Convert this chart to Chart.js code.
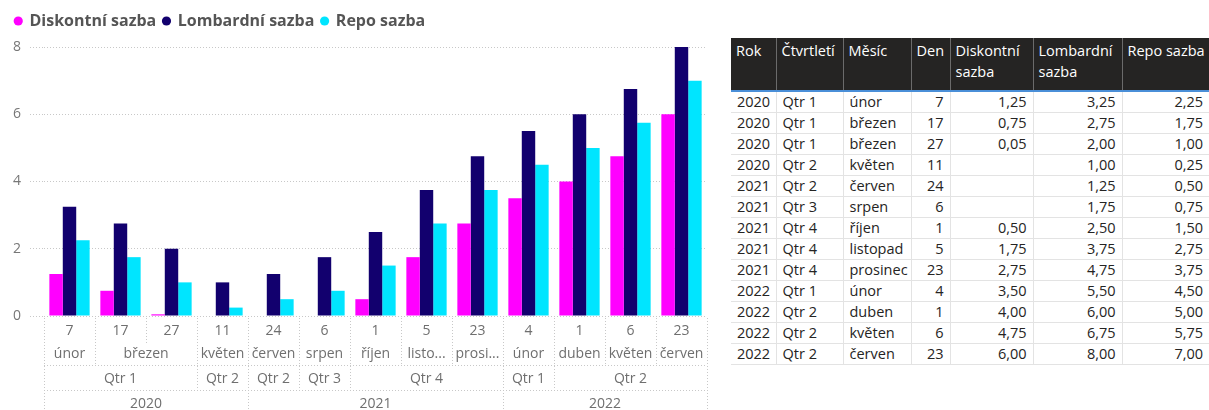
<!DOCTYPE html>
<html><head><meta charset="utf-8">
<script src="https://cdn.jsdelivr.net/npm/chart.js@4/dist/chart.umd.min.js"></script>
<style>
html,body{margin:0;padding:0;background:#fff;width:1209px;height:410px;overflow:hidden;font-family:'Open Sans',sans-serif;}
#c{position:absolute;left:0;top:0;}
#tbl{position:absolute;left:731px;top:38px;width:478px;border-collapse:collapse;table-layout:fixed;font-family:'Open Sans',sans-serif;font-size:14.5px;color:#252423;}
#tbl th{background:#252423;color:#fff;font-weight:normal;text-align:left;vertical-align:top;height:50px;padding:2px 3px 0 5px;line-height:21px;border-left:1px solid #6b6b6b;border-bottom:2px solid #4a8fd8;white-space:normal;}
#tbl th:first-child{border-left:none;}
#tbl td{height:20px;padding:0 6px;line-height:20px;border-left:1px solid #e3e3e3;border-bottom:1px solid #e3e3e3;white-space:nowrap;overflow:hidden;}
#tbl td:first-child{border-left:none;}
#tbl td.num{text-align:right;}
</style></head><body>
<canvas id="c" width="714" height="410"></canvas>
<table id="tbl"></table>
<script>
// ---- data ----
const years    = ['2020','2020','2020','2020','2021','2021','2021','2021','2021','2022','2022','2022','2022'];
const quarters = ['Qtr 1','Qtr 1','Qtr 1','Qtr 2','Qtr 2','Qtr 3','Qtr 4','Qtr 4','Qtr 4','Qtr 1','Qtr 2','Qtr 2','Qtr 2'];
const months   = ['únor','březen','březen','květen','červen','srpen','říjen','listopad','prosinec','únor','duben','květen','červen'];
const days     = [7,17,27,11,24,6,1,5,23,4,1,6,23];
const diskontni = [1.25,0.75,0.05,null,null,null,0.50,1.75,2.75,3.50,4.00,4.75,6.00];
const lombardni = [3.25,2.75,2.00,1.00,1.25,1.75,2.50,3.75,4.75,5.50,6.00,6.75,8.00];
const repo      = [2.25,1.75,1.00,0.25,0.50,0.75,1.50,2.75,3.75,4.50,5.00,5.75,7.00];
const seriesNames = ['Diskontní sazba','Lombardní sazba','Repo sazba'];
const yTicks = [0,2,4,6,8];
const colHeaders = ['Rok','Čtvrtletí','Měsíc','Den','Diskontní sazba','Lombardní sazba','Repo sazba'];

const FONT = "'Open Sans', sans-serif";
const colors = ['#FF00FF','#12006E','#00E5FF'];

// ---- table ----
const colWidths = [45,67,68,39,83,89,87];
const fmt = v => v == null ? '' : v.toFixed(2).replace('.', ',');
(function buildTable(){
  const t = document.getElementById('tbl');
  const cg = document.createElement('colgroup');
  colWidths.forEach(w => { const c = document.createElement('col'); c.style.width = w + 'px'; cg.appendChild(c); });
  t.appendChild(cg);
  const hr = document.createElement('tr');
  colHeaders.forEach(h => { const th = document.createElement('th'); th.textContent = h; hr.appendChild(th); });
  t.appendChild(hr);
  days.forEach((d, i) => {
    const tr = document.createElement('tr');
    const cells = [[years[i],''],[quarters[i],''],[months[i],''],[String(d),'num'],[fmt(diskontni[i]),'num'],[fmt(lombardni[i]),'num'],[fmt(repo[i]),'num']];
    cells.forEach(([txt, cls]) => { const td = document.createElement('td'); td.textContent = txt; if (cls) td.className = cls; tr.appendChild(td); });
    t.appendChild(tr);
  });
})();

// ---- hierarchical x axis plugin ----
function fitText(ctx, txt, maxW){
  if (ctx.measureText(txt).width <= maxW) return txt;
  let s = txt;
  while (s.length > 1 && ctx.measureText(s + '...').width > maxW) s = s.slice(0, -1);
  return s + '...';
}
const hierAxis = {
  id: 'hierAxis',
  afterDraw(chart){
    const ctx = chart.ctx, xs = chart.scales.x, area = chart.chartArea;
    const n = days.length;
    const step = xs.getPixelForValue(1) - xs.getPixelForValue(0);
    const edge = i => xs.getPixelForValue(0) - step/2 + i*step;
    const levels = [
      {keys: days.map((d,i)=>'d'+i), labels: days.map(String), y: 331, bottom: 343},
      {keys: months.map((m,i)=>years[i]+quarters[i]+m), labels: months, y: 354, bottom: 365},
      {keys: quarters.map((q,i)=>years[i]+q), labels: quarters, y: 379, bottom: 390},
      {keys: years, labels: years, y: 404, bottom: 412}
    ];
    ctx.save();
    ctx.font = '14px ' + FONT;
    ctx.fillStyle = '#6f6f6f';
    ctx.textAlign = 'center';
    ctx.textBaseline = 'middle';
    const boundaryBottom = new Array(n+1).fill(area.bottom);
    boundaryBottom[0] = 412; boundaryBottom[n] = 412;
    levels.forEach(lv => {
      let s = 0;
      for (let i = 1; i <= n; i++) {
        if (i === n || lv.keys[i] !== lv.keys[s]) {
          const x0 = edge(s), x1 = edge(i);
          const txt = fitText(ctx, lv.labels[s], x1 - x0 - 6);
          ctx.fillText(txt, (x0 + x1)/2, lv.y);
          boundaryBottom[i] = Math.max(boundaryBottom[i], lv.bottom);
          s = i;
        }
      }
    });
    ctx.strokeStyle = '#c8c8c8';
    ctx.lineWidth = 1;
    ctx.setLineDash([1,2]);
    for (let b = 0; b <= n; b++) {
      const x = Math.round(edge(b)) + 0.5;
      ctx.beginPath(); ctx.moveTo(x, area.bottom + 2); ctx.lineTo(x, boundaryBottom[b]); ctx.stroke();
    }
    [365.5, 390.5].forEach(y => {
      ctx.beginPath(); ctx.moveTo(edge(0), y); ctx.lineTo(edge(n), y); ctx.stroke();
    });
    ctx.restore();
  }
};

const legendHeight = {
  id: 'legendHeight',
  beforeUpdate(chart){
    const lg = chart.legend;
    if (lg && !lg._patched) {
      const orig = lg.fit;
      lg.fit = function(){ orig.call(this); this.height = 41; };
      lg._patched = true;
    }
  }
};

new Chart(document.getElementById('c'), {
  type: 'bar',
  data: {
    labels: days.map(String),
    datasets: [
      {label: seriesNames[0], data: diskontni, backgroundColor: colors[0], borderWidth: 0},
      {label: seriesNames[1], data: lombardni, backgroundColor: colors[1], borderWidth: 0},
      {label: seriesNames[2], data: repo, backgroundColor: colors[2], borderWidth: 0}
    ]
  },
  options: {
    responsive: false,
    animation: false,
    devicePixelRatio: 1,
    layout: {padding: {left: 8, right: 7, top: 6, bottom: 94}},
    datasets: {bar: {categoryPercentage: 0.79, barPercentage: 1.0}},
    plugins: {
      legend: {
        position: 'top', align: 'start',
        labels: {
          usePointStyle: true, pointStyle: 'circle', boxWidth: 6.5, boxHeight: 6.5, padding: 7,
          color: '#555555', font: {family: FONT, size: 16, weight: 'bold'}
        }
      },
      tooltip: {enabled: false}
    },
    scales: {
      x: {display: false},
      y: {
        min: 0, max: 8,
        afterFit: s => { s.width = 36; },
        afterBuildTicks: s => { s.ticks = yTicks.map(v => ({value: v})); },
        ticks: {color: '#777777', padding: 9, font: {family: FONT, size: 14}},
        grid: {color: '#c8c8c8', lineWidth: 1, drawTicks: true, tickLength: 14, tickBorderDash: [1,2], tickColor: '#c8c8c8'},
        border: {display: false, dash: [1,2]}
      }
    }
  },
  plugins: [hierAxis, legendHeight]
});
</script>
</body></html>
